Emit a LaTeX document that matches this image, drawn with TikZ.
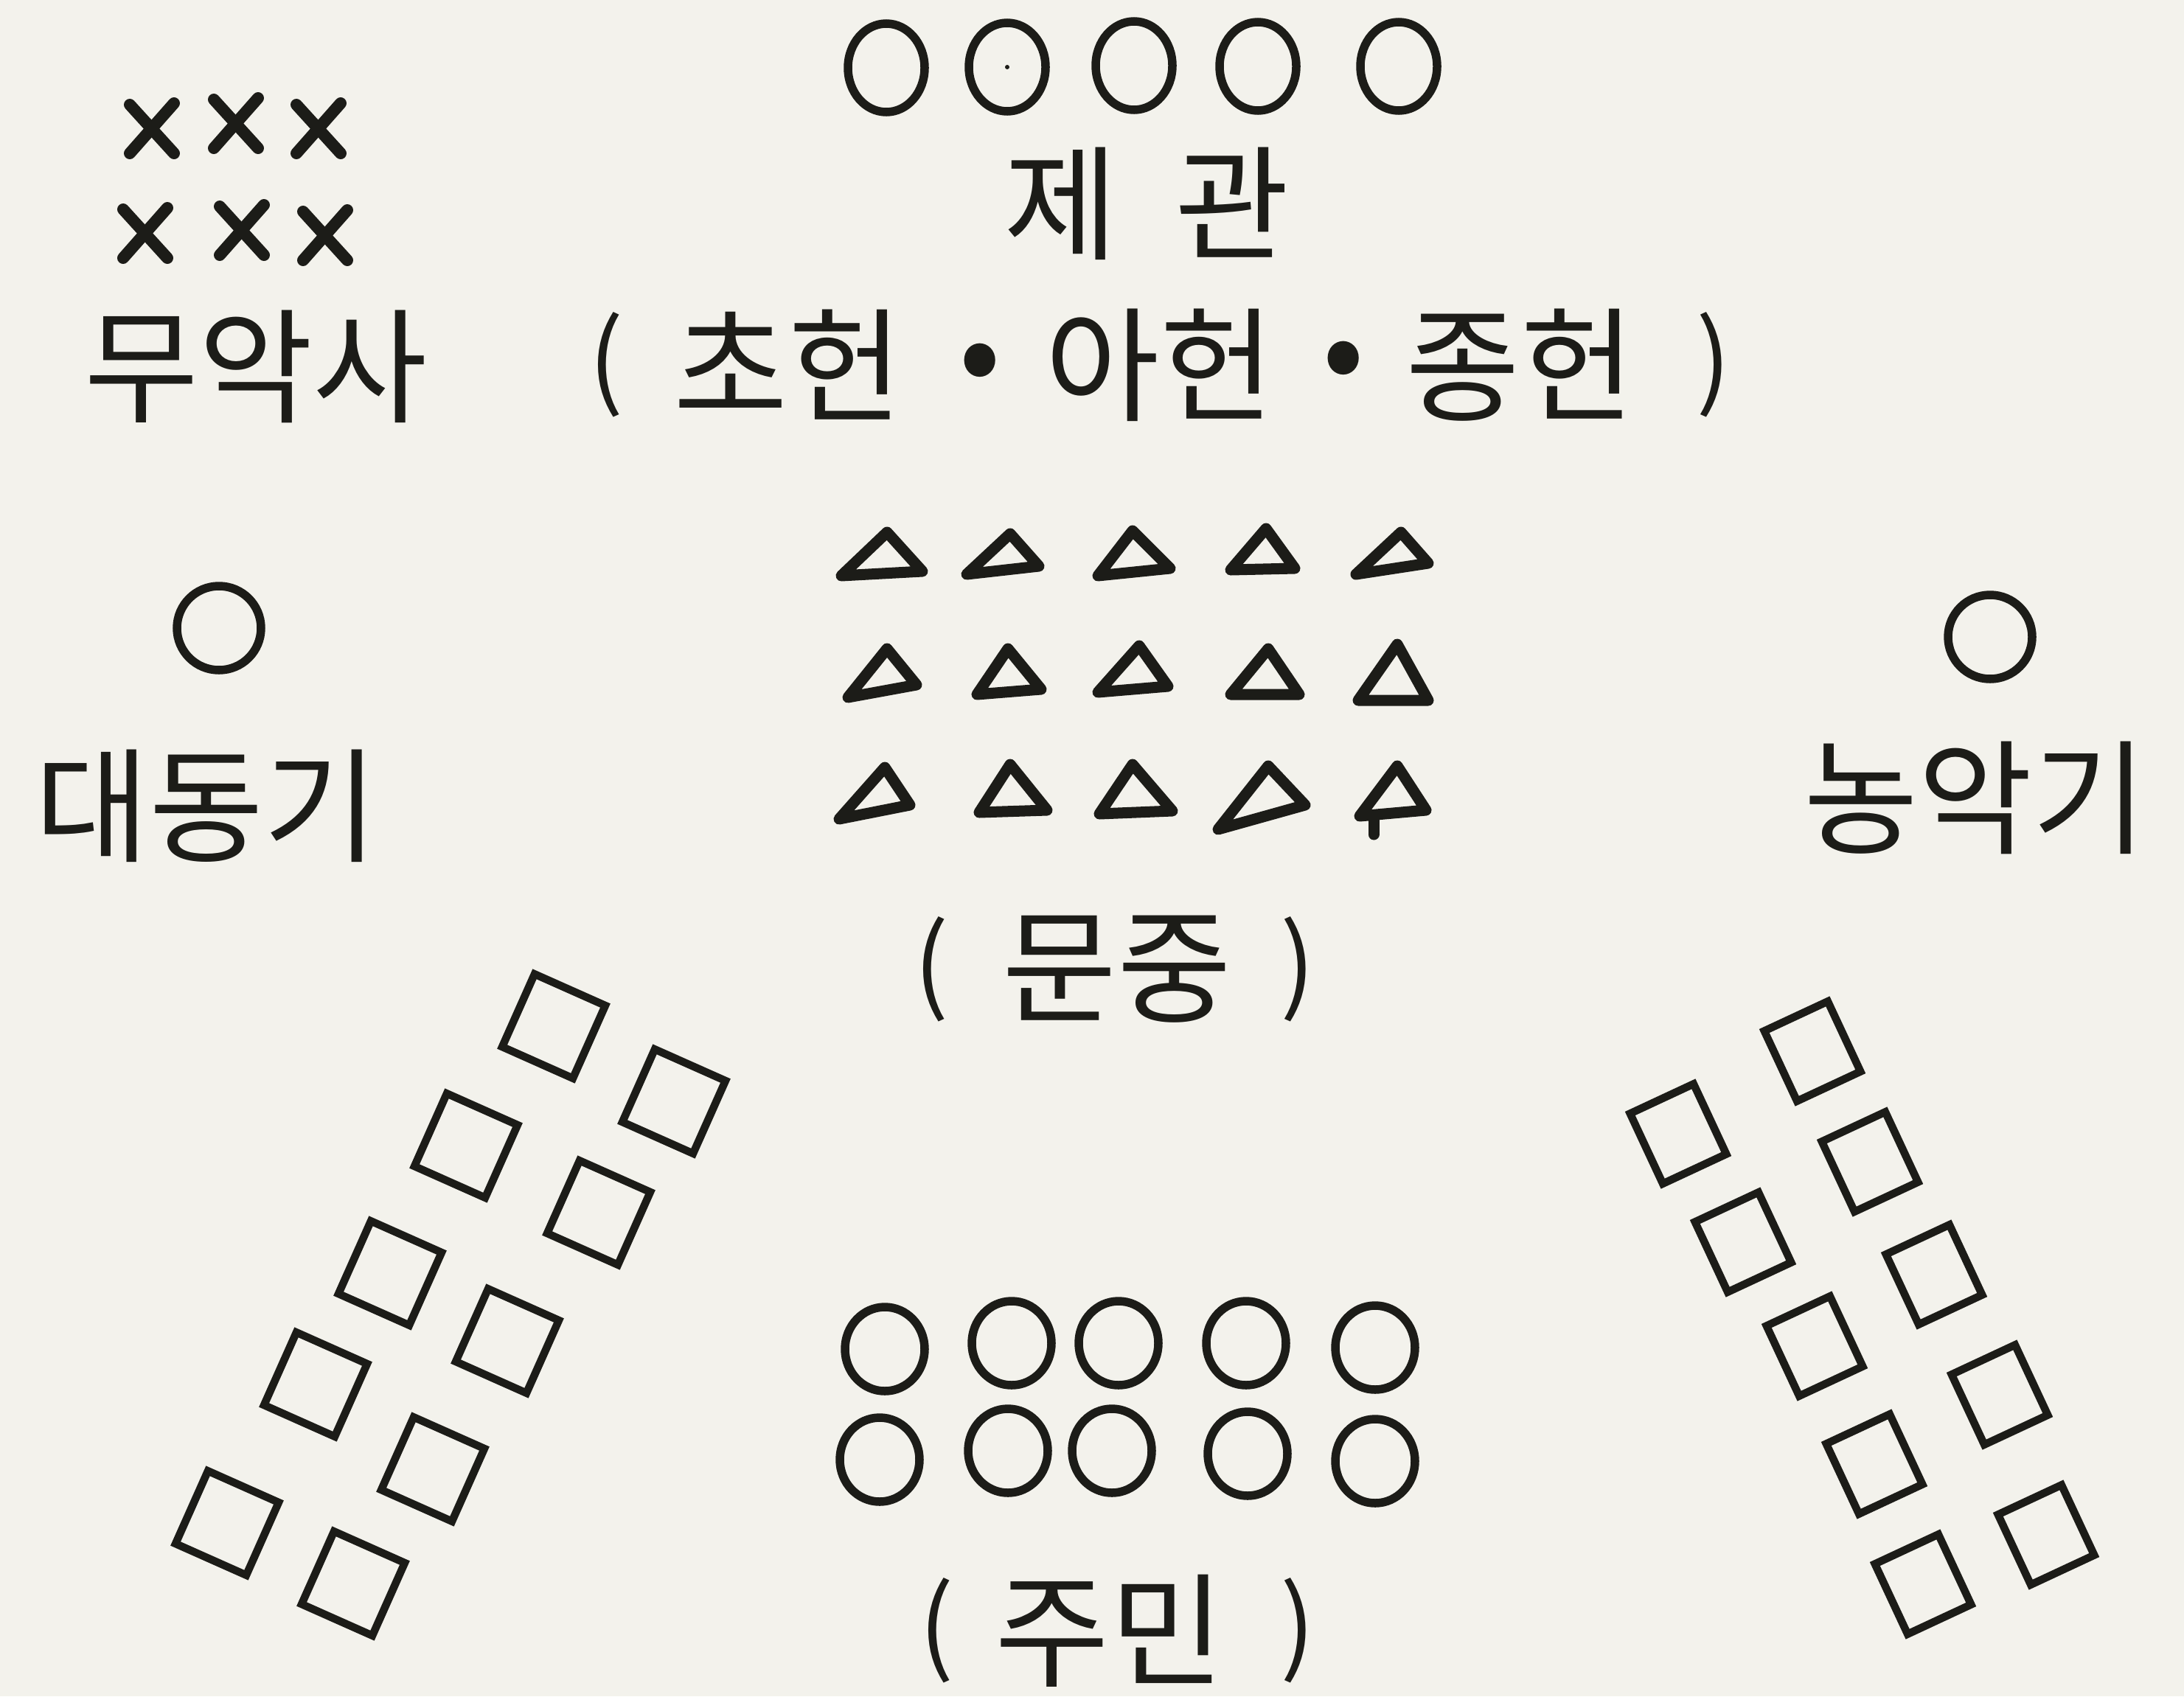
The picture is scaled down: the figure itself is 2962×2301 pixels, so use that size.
\documentclass[tikz,border=0pt]{standalone}
\usepackage{fontspec}
\setmainfont{Noto Sans CJK KR}
\usetikzlibrary{shapes.geometric}
\definecolor{paper}{RGB}{243,242,236}
\definecolor{ink}{RGB}{28,28,24}
\tikzset{
  lbl/.style={text=ink, inner sep=0pt, font=\fontsize{48}{53}\selectfont},
  par/.style={text=ink, inner sep=0pt, font=\fontsize{40}{44}\selectfont},
  ring/.style={draw=ink, line width=1.15mm, ellipse, inner sep=0pt},
  topring/.style={ring, minimum width=10.4mm, minimum height=12.0mm},
  botring/.style={ring, minimum width=10.8mm, minimum height=11.4mm},
  sidering/.style={ring, minimum width=11.4mm, minimum height=11.4mm},
  tri/.style={draw=ink, line width=1.5mm, line join=round, line cap=round},
  xmark/.style={draw=ink, line width=1.6mm, line cap=round},
  lsq/.style={draw=ink, line width=1.05mm, rectangle, inner sep=0pt, minimum width=10.5mm, minimum height=10.8mm, rotate=-24},
  rsq/.style={draw=ink, line width=1.05mm, rectangle, inner sep=0pt, minimum width=9.5mm, minimum height=10.5mm, rotate=25}
}
\begin{document}
\begin{tikzpicture}[x=0.1mm, y=-0.1mm]
\fill[paper] (0,0) rectangle (2962,2301);
\useasboundingbox (0,0) rectangle (2962,2301);

% top circles (제관)
\node[topring] (t1) at (1202,92) {};
\node[topring] (t2) at (1366,91) {};
\node[topring] (t3) at (1538,89) {};
\node[topring] (t4) at (1706,90) {};
\node[topring] (t5) at (1897,90) {};
\fill[ink] (t2.center) circle (3);

\node[lbl] (jegwan) at (1555,276) {제 \hspace{0.23em}관};

% second line
\node[par] (lp1) at (822,495) {(};
\node[lbl] (chohyeon) at (1069,495) {초헌};
\node[lbl] (b1) at (1329,502) {•};
\node[lbl] (ahyeon) at (1573,495) {아헌};
\node[lbl] (b2) at (1822,499) {•};
\node[lbl] (jonghyeon) at (2062,495) {종헌};
\node[par] (rp1) at (2324,495) {)};

% X marks (무악사)
\foreach \cx/\cy in {206/175, 320/168, 432/175, 197/317, 328/313, 441/320}{
  \draw[xmark] (\cx-30,\cy-33) -- (\cx+30,\cy+33);
  \draw[xmark] (\cx+30,\cy-35) -- (\cx-30,\cy+33);
}
\node[lbl] (muaksa) at (347,497) {무악사};

% flags
\node[sidering] (dcirc) at (297,852) {};
\node[lbl] (daedong) at (280,1093) {대동기};
\node[sidering] (ncirc) at (2699,864) {};
\node[lbl] (nongak) at (2679,1082) {농악기};

% triangles (문중)
\draw[tri] (1203,722) -- (1251,775) -- (1141,781) -- cycle;
\draw[tri] (1370,724) -- (1409,768) -- (1311,779) -- cycle;
\draw[tri] (1536,720) -- (1587,771) -- (1489,781) -- cycle;
\draw[tri] (1717,717) -- (1756,771) -- (1669,773) -- cycle;
\draw[tri] (1900,722) -- (1937,764) -- (1839,779) -- cycle;
\draw[tri] (1203,880) -- (1243,929) -- (1150,946) -- cycle;
\draw[tri] (1367,880) -- (1412,935) -- (1325,942) -- cycle;
\draw[tri] (1545,876) -- (1584,931) -- (1489,939) -- cycle;
\draw[tri] (1720,880) -- (1762,942) -- (1669,942) -- cycle;
\draw[tri] (1895,874) -- (1937,950) -- (1842,950) -- cycle;
\draw[tri] (1200,1041) -- (1234,1092) -- (1138,1111) -- cycle;
\draw[tri] (1370,1037) -- (1420,1099) -- (1328,1102) -- cycle;
\draw[tri] (1536,1037) -- (1590,1100) -- (1491,1104) -- cycle;
\draw[tri] (1720,1039) -- (1770,1092) -- (1652,1125) -- cycle;
\draw[tri] (1895,1039) -- (1934,1099) -- (1844,1107) -- cycle;
\draw[tri] (1863,1107) -- (1863,1132);

\node[par] (lp2) at (1263,1315) {(};
\node[lbl] (munjung) at (1515,1315) {문중};
\node[par] (rp2) at (1760,1315) {)};

% left squares
\node[lsq] (l1) at (751,1392) {};
\node[lsq] (l2) at (914,1494) {};
\node[lsq] (l3) at (632,1554) {};
\node[lsq] (l4) at (812,1645) {};
\node[lsq] (l5) at (529,1727) {};
\node[lsq] (l6) at (688,1819) {};
\node[lsq] (l7) at (428,1878) {};
\node[lsq] (l8) at (587,1993) {};
\node[lsq] (l9) at (308,2066) {};
\node[lsq] (l10) at (479,2148) {};

% right squares
\node[rsq] (r1) at (2458,1426) {};
\node[rsq] (r2) at (2276,1538) {};
\node[rsq] (r3) at (2536,1576) {};
\node[rsq] (r4) at (2364,1685) {};
\node[rsq] (r5) at (2623,1729) {};
\node[rsq] (r6) at (2461,1826) {};
\node[rsq] (r7) at (2712,1892) {};
\node[rsq] (r8) at (2542,1986) {};
\node[rsq] (r9) at (2775,2082) {};
\node[rsq] (r10) at (2608,2149) {};

% bottom circles (주민)
\node[botring] (c11) at (1200,1830) {};
\node[botring] (c12) at (1372,1822) {};
\node[botring] (c13) at (1517,1822) {};
\node[botring] (c14) at (1690,1822) {};
\node[botring] (c15) at (1865,1828) {};
\node[botring] (c21) at (1193,1980) {};
\node[botring] (c22) at (1367,1968) {};
\node[botring] (c23) at (1508,1968) {};
\node[botring] (c24) at (1692,1972) {};
\node[botring] (c25) at (1865,1982) {};

\node[par] (lp3) at (1270,2212) {(};
\node[lbl] (jumin) at (1505,2212) {주민};
\node[par] (rp3) at (1760,2212) {)};
\end{tikzpicture}
\end{document}
